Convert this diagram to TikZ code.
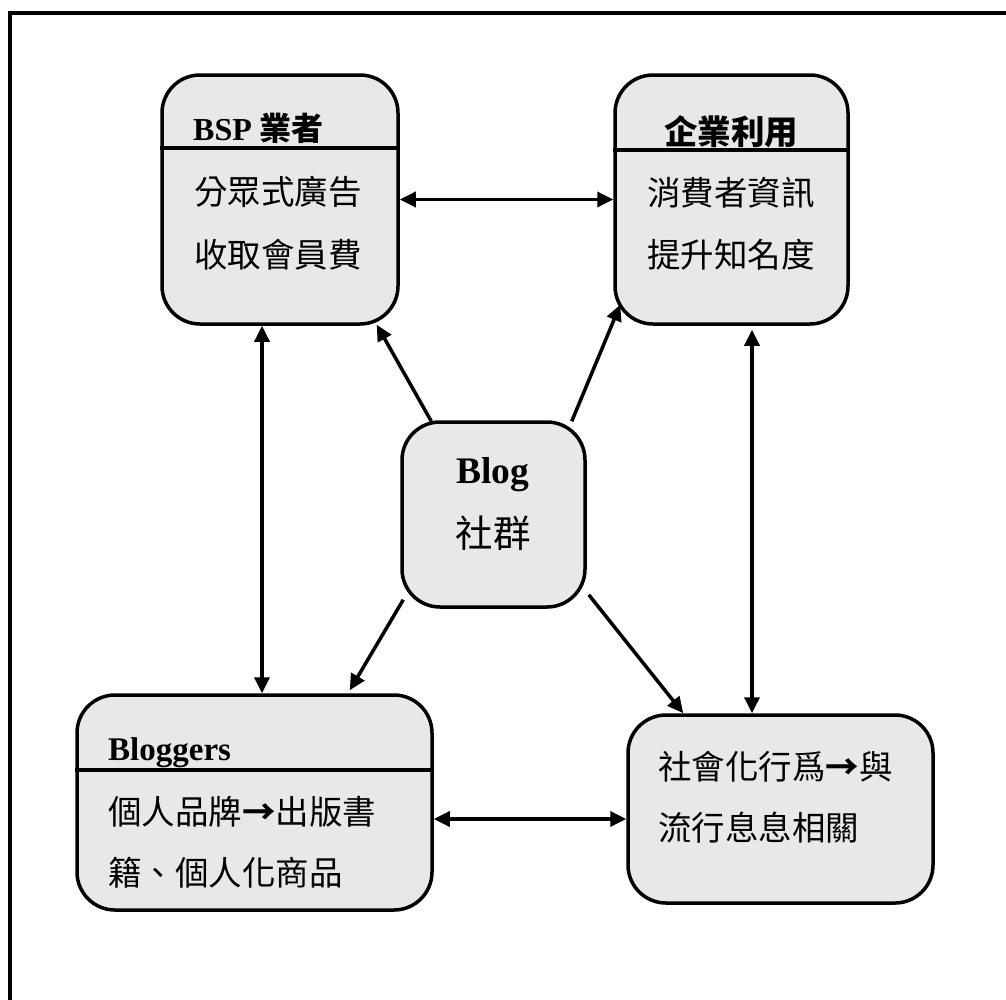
\documentclass[tikz,border=0pt]{standalone}
\usepackage{fontspec}
\setmainfont{Liberation Serif}
\newfontfamily\cjk{Noto Sans CJK TC}
\usetikzlibrary{arrows.meta,calc}
\definecolor{boxgray}{HTML}{E8E8E8}
\begin{document}
\begin{tikzpicture}[x=1pt,y=-1pt,
  box/.style={draw, line width=3.5pt, fill=boxgray, rounded corners=38pt, inner sep=0pt},
  conn/.style={line width=3.5pt, -{Triangle[length=16pt,width=15pt]}},
  both/.style={line width=3.5pt, {Triangle[length=16pt,width=15pt]}-{Triangle[length=16pt,width=15pt]}},
  body/.style={font=\cjk\fontsize{33.5}{40}\selectfont, inner sep=0pt},
  title/.style={font=\bfseries\fontsize{32}{40}\selectfont, inner sep=0pt},
  hline/.style={line width=3.5pt}
]
\useasboundingbox (0,0) rectangle (1006,999);
% outer frame (only top and left visible)
\draw[line width=4pt] (10,13) rectangle (1030,1030);

% boxes
\node[box, minimum width=236pt, minimum height=249pt] (bsp) at (280,199.5) {};
\node[box, minimum width=233pt, minimum height=249pt] (qy) at (731.5,199.5) {};
\node[box, minimum width=183pt, minimum height=185pt] (blog) at (493.5,514.5) {};
\node[box, minimum width=355pt, minimum height=215pt] (blg) at (254.5,802.5) {};
\node[box, minimum width=305pt, minimum height=188pt] (soc) at (780.5,809) {};

% header lines
\draw[hline] (bsp.west |- 0,148) -- (bsp.east |- 0,148);
\draw[hline] (qy.west |- 0,150) -- (qy.east |- 0,150);
\draw[hline] (blg.west |- 0,770) -- (blg.east |- 0,770);

% texts
\node[title, anchor=base west] (bspt) at (193,140) {BSP {\cjk 業者}};
\node[body] (bsp1) at (278,192) {分眾式廣告};
\node[body] (bsp2) at (278,255) {收取會員費};

\node[body, font=\cjk\bfseries\fontsize{33.5}{40}\selectfont] (qyt) at (731,132) {企業利用};
\node[body] (qy1) at (731,193) {消費者資訊};
\node[body] (qy2) at (731,255) {提升知名度};

\node[title, font=\bfseries\fontsize{37.5}{44}\selectfont] (blogt) at (493,475) {Blog};
\node[body, font=\cjk\fontsize{37.5}{44}\selectfont] (blog1) at (493,533) {社群};

\node[title, font=\bfseries\fontsize{33}{40}\selectfont, anchor=base west] (blgt) at (108,760) {Bloggers};
\node[body, anchor=west] (blg1) at (108,812) {個人品牌{\bfseries →}出版書};
\node[body, anchor=west] (blg2) at (108,873) {籍、個人化商品};

\node[body, anchor=west] (soc1) at (658,767) {社會化行爲{\bfseries →}與};
\node[body, anchor=west] (soc2) at (658,828) {流行息息相關};

% connectors from the centre
\draw[conn] ($(blog.north west)+(31,1)$) -- ($(bsp.south east)+(-23,-1)$);
\draw[conn] ($(blog.north east)+(-15,1)$) -- ($(qy.south west)+(7,-21)$);
\draw[conn] ($(blog.south west)+(3,-9)$) -- ($(blg.north east)+(-84,-3)$);
\draw[conn] ($(blog.south east)+(2,-14)$) -- ($(soc.north west)+(57,0)$);

% double arrows
\draw[both] (bsp.east) -- (qy.west);
\draw[both] ($(bsp.south)+(-18,0)$) coordinate (a1) -- (a1 |- blg.north);
\draw[both] ($(qy.south)+(20.5,4)$) coordinate (a2) -- (a2 |- soc.north);
\draw[both] ($(blg.east)+(0,16.5)$) coordinate (a3) -- (a3 -| soc.west);
\end{tikzpicture}
\end{document}
